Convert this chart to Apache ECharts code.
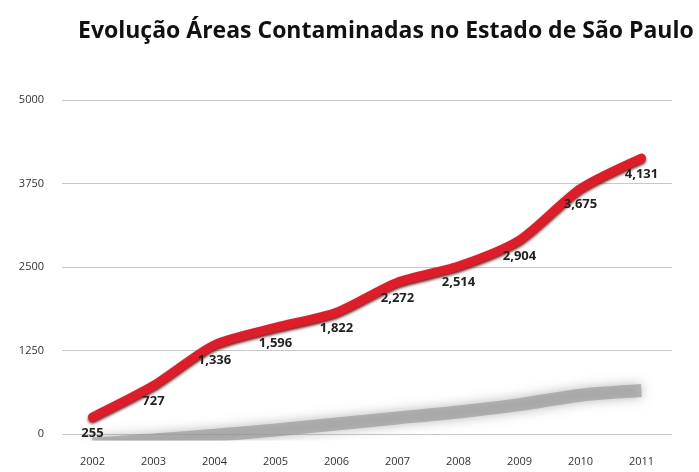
<!DOCTYPE html>
<html><head><meta charset="utf-8">
<script src="https://cdn.jsdelivr.net/npm/echarts@6/dist/echarts.min.js"></script>
<style>html,body{margin:0;padding:0;background:#fff}#c{width:699px;height:472px}</style>
</head><body><div id="c"></div>
<script>
const titleText = 'Evolução Áreas Contaminadas no Estado de São Paulo';
const years = ['2002','2003','2004','2005','2006','2007','2008','2009','2010','2011'];
const areas = [255, 727, 1336, 1596, 1822, 2272, 2514, 2904, 3675, 4131];
// decorative grey "shadow" band
const shadowValues = [-150, -90, -20, 60, 150, 240, 330, 440, 580, 650];
const yTicks = [0, 1250, 2500, 3750, 5000];

const chart = echarts.init(document.getElementById('c'));
chart.setOption({
  backgroundColor: '#fff',
  animation: false,
  title: {
    text: titleText, left: 73, top: 15,
    textStyle: {fontFamily: 'Open Sans', fontWeight: 'bold', fontSize: 23, color: '#111'}
  },
  grid: {left: 62, right: 27, top: 100, bottom: 38},
  xAxis: {
    type: 'category', data: years, boundaryGap: true,
    axisLine: {show: false}, axisTick: {show: false},
    axisLabel: {color: '#333', fontSize: 11, fontFamily: 'Open Sans', margin: 22}
  },
  yAxis: {
    type: 'value', min: yTicks[0], max: yTicks[yTicks.length-1], interval: 1250,
    axisLine: {show: false}, axisTick: {show: false},
    axisLabel: {color: '#333', fontSize: 11, fontFamily: 'Open Sans', margin: 18,
      formatter: v => String(v)},
    splitLine: {lineStyle: {color: '#c8c8c8', width: 1}}
  },
  series: [
    {
      type: 'line', data: shadowValues, smooth: 0.3, silent: true, symbol: 'none', z: 1,
      lineStyle: {color: 'rgba(150,150,150,0.65)', width: 13, shadowColor: 'rgba(120,120,120,0.8)', shadowBlur: 12}
    },
    {
      type: 'line', data: areas, smooth: 0.25, symbol: 'circle', symbolSize: 1, showSymbol: true, z: 3,
      itemStyle: {color: 'rgba(0,0,0,0)'},
      lineStyle: {color: '#dd1e2a', width: 9, cap: 'round', join: 'round',
        shadowColor: 'rgba(90,0,0,0.9)', shadowBlur: 3, shadowOffsetY: 2},
      label: {
        show: true, position: 'bottom', distance: 9,
        color: '#222', fontWeight: 'bold', fontSize: 13, fontFamily: 'Open Sans',
        formatter: p => p.value.toLocaleString('en-US')
      }
    }
  ]
});
</script></body></html>
